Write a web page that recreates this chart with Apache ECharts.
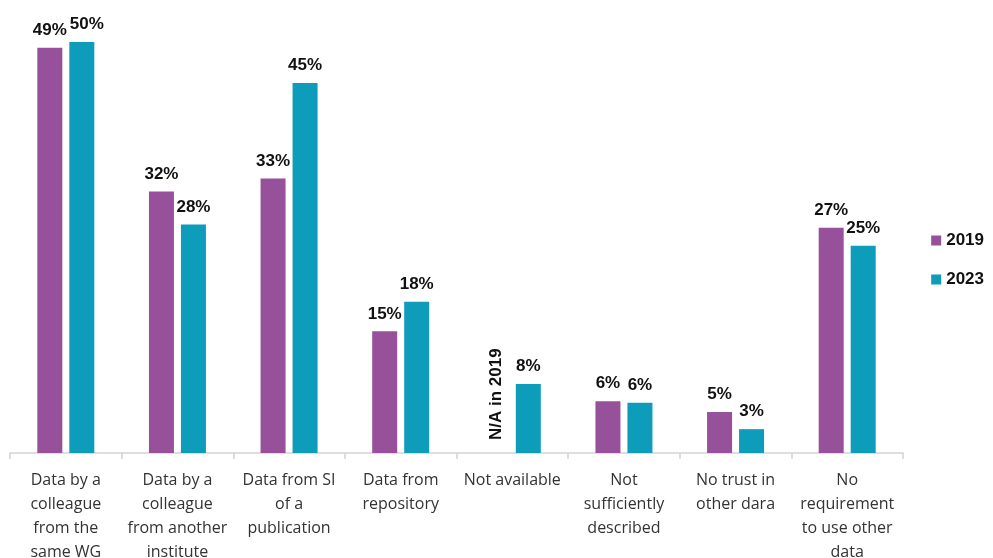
<!DOCTYPE html>
<html>
<head>
<meta charset="utf-8">
<script src="https://cdn.jsdelivr.net/npm/echarts@6/dist/echarts.min.js"></script>
<style>html,body{margin:0;padding:0;background:#fff;}#c{width:993px;height:558px;}</style>
</head>
<body>
<div id="c"></div>
<script>
const categories = [
  "Data by a\ncolleague\nfrom the\nsame WG",
  "Data by a\ncolleague\nfrom another\ninstitute",
  "Data from SI\nof a\npublication",
  "Data from\nrepository",
  "Not available",
  "Not\nsufficiently\ndescribed",
  "No trust in\nother dara",
  "No\nrequirement\nto use other\ndata"
];
const values2019 = [49.3, 31.8, 33.4, 14.8, null, 6.3, 5.0, 27.4];
const values2023 = [50.1, 27.8, 45.0, 18.4, 8.4, 6.1, 2.9, 25.2];
const naNote = "N/A in 2019";

const chart = echarts.init(document.getElementById('c'));
const labelFont = { fontFamily: '"Liberation Sans", Arial, sans-serif', fontWeight: 'bold', fontSize: 17, color: '#111' };
const labelStyle = Object.assign({
  show: true, position: 'top', distance: 9,
  formatter: p => Math.round(p.value) + '%'
}, labelFont);
const data2019 = values2019.map(v => v === null ? {
  value: 0,
  label: Object.assign({ show: true, formatter: naNote, rotate: 90, position: 'top', align: 'left', verticalAlign: 'middle', distance: 13 }, labelFont)
} : v);
const data2023 = values2023.map((v, i) => i === 0 ? { value: v, label: { offset: [5, 0] } } : v);

chart.setOption({
  animation: false,
  grid: { left: 10, right: 90, top: 42, bottom: 105, containLabel: false, outerBoundsMode: 'none' },
  legend: {
    orient: 'vertical', right: 4, top: 227, itemWidth: 10, itemHeight: 10, itemGap: 22,
    icon: 'rect',
    textStyle: labelFont,
    data: ['2019', '2023']
  },
  xAxis: {
    type: 'category', data: categories,
    axisLine: { lineStyle: { color: '#d4d4d4', width: 1.5 } },
    axisTick: { show: true, length: 6, lineStyle: { color: '#d4d4d4', width: 1.5 } },
    axisLabel: { interval: 0, margin: 15, fontFamily: '"Open Sans", sans-serif', fontSize: 16, color: '#333', lineHeight: 24 }
  },
  yAxis: { type: 'value', min: 0, max: 50, show: false, splitLine: { show: false } },
  series: [
    { name: '2019', type: 'bar', data: data2019, barWidth: 25, barGap: '28%', itemStyle: { color: '#97519A' }, label: labelStyle },
    { name: '2023', type: 'bar', data: data2023, barWidth: 25, itemStyle: { color: '#0E9CBB' }, label: labelStyle }
  ]
});
</script>
</body>
</html>
